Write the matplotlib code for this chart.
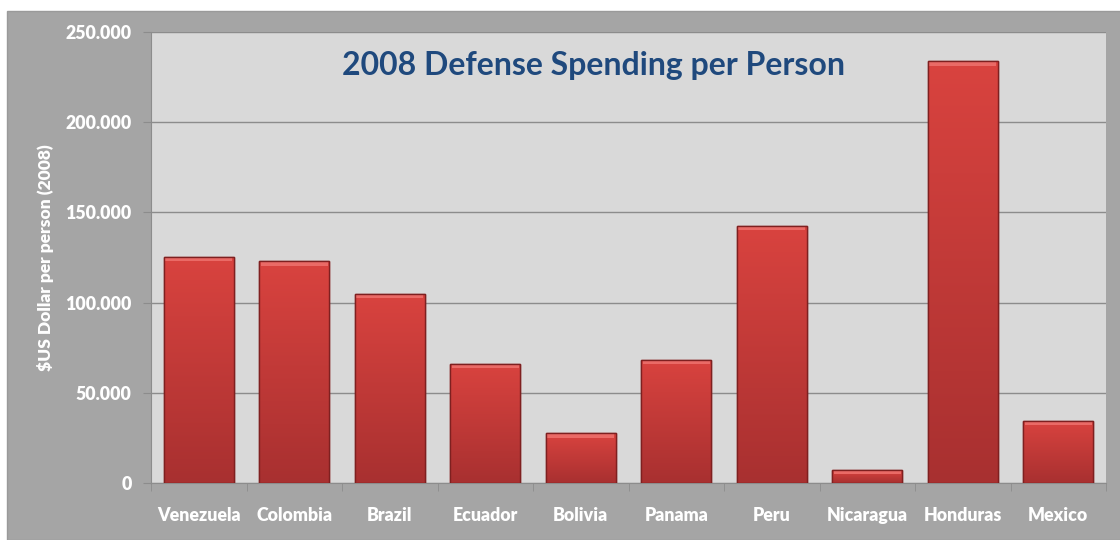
import numpy as np
import matplotlib.pyplot as plt
from matplotlib.patches import Rectangle
from matplotlib.ticker import FuncFormatter, MultipleLocator
from matplotlib.colors import LinearSegmentedColormap

plt.rcParams['font.family'] = ['Lato', 'DejaVu Sans']

paises = ["Venezuela", "Colombia", "Brazil", "Ecuador", "Bolivia",
          "Panama", "Peru", "Nicaragua", "Honduras", "Mexico"]
gasto = [125300, 123000, 104800, 66000, 27700,
         68200, 142500, 7200, 233900, 34400]

fig = plt.figure(figsize=(11.2, 5.4), dpi=100)
fig.patch.set_facecolor("white")
# marco gris del grafico
fig.patches.append(Rectangle((7 / 1120, 0), 1, 1 - 11 / 540, transform=fig.transFigure,
                             facecolor="#a5a5a5", edgecolor="#9a9a9a", lw=1, zorder=-5))

ax = fig.add_axes([151 / 1120, 57 / 540, 955 / 1120, 451 / 540])
ax.set_facecolor("#d9d9d9")

x = np.arange(len(paises))
barras = ax.bar(x, gasto, width=0.73, color="#c0393a", edgecolor="#8e2424",
                linewidth=1.0, zorder=3)

# degradado vertical dentro de cada barra
cmap = LinearSegmentedColormap.from_list("rojo", ["#a83030", "#d9433f"])
grad = np.linspace(0, 1, 256).reshape(-1, 1)
for b in barras:
    x0, y0 = b.get_x(), b.get_y()
    w, h = b.get_width(), b.get_height()
    im = ax.imshow(grad, cmap=cmap, origin="lower", aspect="auto",
                   extent=(x0, x0 + w, y0, y0 + h), zorder=3.5)
    im.set_clip_path(b)
    # brillo superior (bisel)
    ax.add_patch(Rectangle((x0 + w * 0.02, y0 + h - min(h * 0.3, 2500)), w * 0.96,
                           min(h * 0.3, 2500), facecolor="#ea6a66",
                           edgecolor="none", zorder=3.6))
    ax.add_patch(Rectangle((x0, y0), w, h, facecolor="none",
                           edgecolor="#7e2020", lw=1.0, zorder=3.7))

ax.set_xlim(-0.5, len(paises) - 0.5)
ax.set_ylim(0, 250000)
ax.yaxis.set_major_locator(MultipleLocator(50000))
ax.yaxis.set_major_formatter(FuncFormatter(lambda v, p: f"{int(v):,}".replace(",", ".")))
ax.yaxis.grid(True, color="#8c8c8c", lw=1, zorder=1)
ax.set_axisbelow(True)

ax.set_xticks(x)
ax.set_xticklabels(paises)
ax.set_xticks(np.arange(len(paises) + 1) - 0.5, minor=True)
ax.tick_params(axis="x", which="major", length=0, pad=17, labelsize=12.8,
               labelcolor="white")
ax.tick_params(axis="x", which="minor", length=6, color="#8c8c8c", direction="out")
ax.tick_params(axis="y", length=6, color="#8c8c8c", pad=8, labelsize=12.8,
               labelcolor="white")
for lbl in ax.get_xticklabels() + ax.get_yticklabels():
    lbl.set_fontweight("heavy")

for s in ["top", "right"]:
    ax.spines[s].set_visible(False)
for s in ["left", "bottom"]:
    ax.spines[s].set_color("#8c8c8c")

ax.set_ylabel(r"\$US Dollar per person (2008)", color="white", fontweight="heavy",
              fontsize=12.5, labelpad=8)
ax.text(0.463, 0.925, "2008 Defense Spending per Person", transform=ax.transAxes,
        ha="center", va="center", fontsize=23, fontweight="bold", color="#1f497d")

plt.savefig("out.png", dpi=100)
plt.close()
